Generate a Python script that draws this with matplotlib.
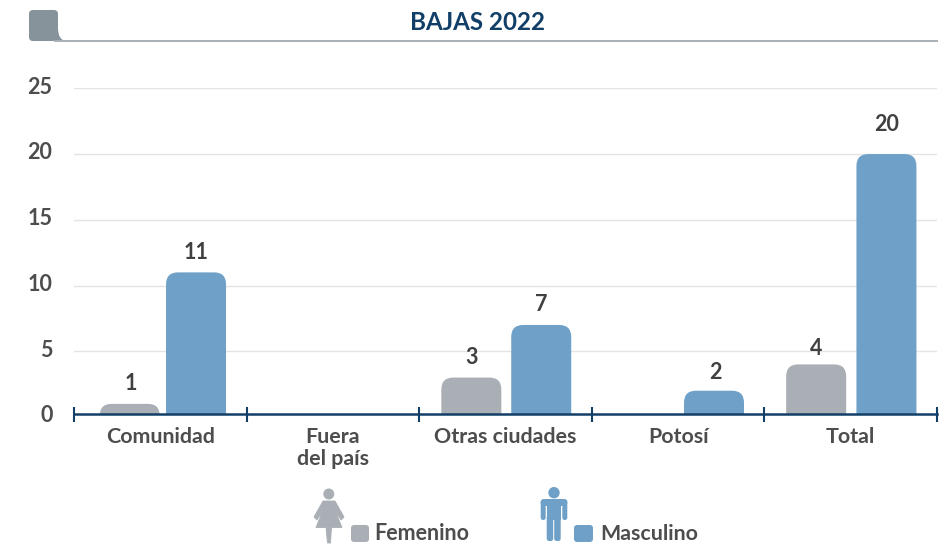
import matplotlib
matplotlib.use("Agg")
import matplotlib.pyplot as plt
from matplotlib.patches import FancyBboxPatch, PathPatch, Circle, Polygon, Rectangle
from matplotlib.path import Path
from matplotlib.transforms import ScaledTranslation

categories = ["Comunidad", "Fuera\ndel país", "Otras ciudades", "Potosí", "Total"]
femenino = [1, 0, 3, 0, 4]
masculino = [11, 0, 7, 2, 20]
yticks = [0, 5, 10, 15, 20, 25]
title = "BAJAS 2022"

GREY = "#a9afb5"
BLUE = "#6fa1c8"
NAVY = "#123f68"
TEXT = "#4d4d4d"
VAL = "#404040"
W, H = 941, 546
plt.rcParams["font.family"] = ["Lato", "DejaVu Sans"]
fig = plt.figure(figsize=(W / 100, H / 100), dpi=100)
X0, X1, Y0, Y25 = 74, 937, 417, 88.3
AX_PX = 414.3
ax = fig.add_axes([X0 / W, 1 - Y0 / H, (X1 - X0) / W, (Y0 - Y25) / H])
ax.set_xlim(0, len(categories))
ax.set_ylim(0, 25)
ax.patch.set_alpha(0)
for s in ax.spines.values():
    s.set_visible(False)
ax.set_yticks(yticks)
ax.set_xticks([])
ax.tick_params(axis="y", length=0, pad=15.5, labelsize=15.5, labelcolor=TEXT)
shift = ScaledTranslation(0, 2.2 / 72, fig.dpi_scale_trans)
for t in ax.get_yticklabels():
    t.set_fontweight("bold")
    t.set_transform(t.get_transform() + shift)
ax.yaxis.grid(True, color="#e4e4e4", lw=1)
ax.yaxis.get_gridlines()[0].set_visible(False)
ax.set_axisbelow(True)

ux = (X1 - X0) / len(categories)   # px per category
uy = (Y0 - Y25) / 25               # px per unit
base = (Y0 - AX_PX) / uy
bw = 60 / ux
rx, ry = 12 / ux, 12 / uy


def rbar(cx, v, color):
    l, r = cx - bw / 2, cx + bw / 2
    k = ry
    verts = [(l, base), (l, v - k), (l, v), (l + rx, v), (r - rx, v), (r, v), (r, v - k), (r, base), (l, base)]
    codes = [Path.MOVETO, Path.LINETO, Path.CURVE3, Path.CURVE3, Path.LINETO, Path.CURVE3, Path.CURVE3, Path.LINETO, Path.CLOSEPOLY]
    ax.add_patch(PathPatch(Path(verts, codes), fc=color, ec="none", zorder=2))


offs_f = [-0.177, 0, -0.198, 0, -0.2]
offs_m = [0.207, 0, 0.207, 0.208, 0.207]
gap_f = [20.5, 0, 20.5, 0, 16]
gap_m = [20, 0, 20.5, 18, 30]
lab_dx = [1, 0, 0, 1, 0]
for i, (f, m) in enumerate(zip(femenino, masculino)):
    cf = i + 0.5 + offs_f[i]
    cm = i + 0.5 + offs_m[i]
    if f:
        rbar(cf, f, GREY)
        ax.text(cf + lab_dx[i] / ux, f + gap_f[i] / uy, str(f), ha="center", va="center", fontsize=15.5, fontweight="bold", color=VAL)
    if m:
        rbar(cm, m, BLUE)
        ax.text(cm + (lab_dx[i] if m == 2 else 0) / ux, m + gap_m[i] / uy, str(m), ha="center", va="center", fontsize=15.5, fontweight="bold", color=VAL)

ax.axhline(base, color=NAVY, lw=1.8, zorder=4, clip_on=False)
for i in range(len(categories) + 1):
    ax.plot([i, i], [base - 7.5 / uy, base + 7.5 / uy], color=NAVY, lw=1.5, zorder=4, clip_on=False, solid_capstyle="butt")
for i, c in enumerate(categories):
    ax.text(i + 0.5, base - 13 / uy, c, ha="center", va="top", fontsize=15.4, fontweight="bold", color=TEXT, linespacing=1.12)

# overlay in pixel coordinates
ov = fig.add_axes([0, 0, 1, 1], zorder=5)
ov.set_xlim(0, W)
ov.set_ylim(H, 0)
ov.axis("off")
ov.plot([55, 937], [41, 41], color="#a8b0b5", lw=1.4)
ov.add_patch(PathPatch(Path(
    [(29, 14), (29, 10), (33, 10), (54, 10), (58, 10), (58, 14), (58, 28), (58, 41), (67, 41), (33, 41), (29, 41), (29, 37), (29, 14)],
    [Path.MOVETO, Path.CURVE3, Path.CURVE3, Path.LINETO, Path.CURVE3, Path.CURVE3, Path.LINETO, Path.CURVE3, Path.CURVE3, Path.LINETO, Path.CURVE3, Path.CURVE3, Path.CLOSEPOLY]),
    fc="#87939a", ec="none"))
ov.text(478, 22, title, ha="center", va="center", fontsize=17.4, fontweight="bold", color=NAVY)

# legend swatches
ov.add_patch(FancyBboxPatch((351, 525), 18, 17, boxstyle="round,pad=0,rounding_size=3", fc=GREY, ec="none"))
ov.add_patch(FancyBboxPatch((574, 525), 19, 17, boxstyle="round,pad=0,rounding_size=3", fc=BLUE, ec="none"))
ov.text(374.5, 533.5, "Femenino", ha="left", va="center", fontsize=15.5, fontweight="bold", color=TEXT)
ov.text(600, 533.5, "Masculino", ha="left", va="center", fontsize=15.4, fontweight="bold", color=TEXT)

# woman icon
ov.add_patch(Circle((328.8, 494), 5.5, fc=GREY, ec="none"))
ov.add_patch(Polygon([(323, 501), (335, 501), (344, 517), (341, 520), (335, 510), (342, 527.5), (331.5, 527.5), (330.5, 543), (327.5, 543), (326, 527.5), (316, 527.5), (323, 510), (317, 520), (314, 517)], closed=True, fc=GREY, ec=GREY, lw=0.6, joinstyle="round"))
# man icon
ov.add_patch(Circle((554, 492.7), 5.7, fc=BLUE, ec="none"))
ov.add_patch(FancyBboxPatch((540.7, 499), 26.6, 7, boxstyle="round,pad=0,rounding_size=3", fc=BLUE, ec="none"))
ov.add_patch(FancyBboxPatch((540.7, 500), 5, 20, boxstyle="round,pad=0,rounding_size=2.4", fc=BLUE, ec="none"))
ov.add_patch(FancyBboxPatch((562.3, 500), 5, 20, boxstyle="round,pad=0,rounding_size=2.4", fc=BLUE, ec="none"))
ov.add_patch(Rectangle((546.7, 500), 14, 20, fc=BLUE, ec="none"))
ov.add_patch(FancyBboxPatch((546.7, 515), 6.5, 26, boxstyle="round,pad=0,rounding_size=2.4", fc=BLUE, ec="none"))
ov.add_patch(FancyBboxPatch((554.2, 515), 6.5, 26, boxstyle="round,pad=0,rounding_size=2.4", fc=BLUE, ec="none"))

fig.savefig("out.png", dpi=100)
